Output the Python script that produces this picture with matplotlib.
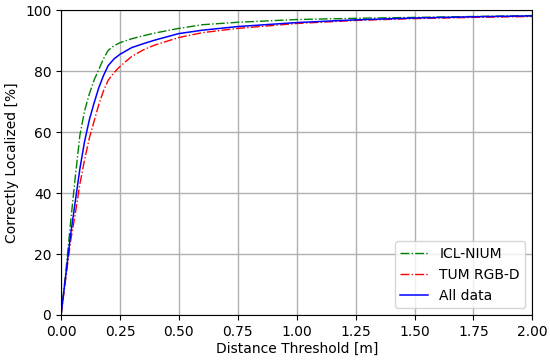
import matplotlib
matplotlib.use("Agg")
import matplotlib.pyplot as plt

x_icl = [0, 0.02, 0.04, 0.06, 0.08, 0.10, 0.12, 0.14, 0.16, 0.18, 0.20, 0.225, 0.25, 0.30, 0.35, 0.40, 0.50, 0.60, 0.75, 1.0, 1.25, 1.5, 1.75, 2.0]
y_icl = [0, 14, 30, 45, 59, 67, 72.5, 77, 80.5, 84, 86.8, 88.3, 89.3, 90.6, 91.6, 92.5, 94, 95.2, 96, 96.9, 97.3, 97.6, 97.9, 98.2]

x_all = [0, 0.02, 0.04, 0.06, 0.08, 0.10, 0.12, 0.14, 0.16, 0.18, 0.20, 0.225, 0.25, 0.30, 0.35, 0.40, 0.50, 0.60, 0.75, 1.0, 1.25, 1.5, 1.75, 2.0]
y_all = [0, 13, 26, 37, 48, 57, 64, 69.5, 74.5, 78.5, 81.8, 84, 85.5, 87.7, 89, 90.2, 92.3, 93.4, 94.6, 95.9, 96.8, 97.4, 97.8, 98.1]

x_tum = [0, 0.02, 0.04, 0.06, 0.08, 0.10, 0.12, 0.14, 0.16, 0.18, 0.20, 0.225, 0.25, 0.30, 0.35, 0.40, 0.50, 0.60, 0.75, 1.0, 1.25, 1.5, 1.75, 2.0]
y_tum = [0, 12, 24, 33, 43, 51, 58, 63.5, 69, 73.5, 77, 79.5, 81.5, 84.8, 87, 88.6, 91, 92.6, 94, 95.6, 96.6, 97.2, 97.6, 97.9]

labels = ["ICL-NIUM", "TUM RGB-D", "All data"]
xticks = [0.00, 0.25, 0.50, 0.75, 1.00, 1.25, 1.50, 1.75, 2.00]
yticks = [0, 20, 40, 60, 80, 100]

fig = plt.figure(figsize=(5.5, 3.6), dpi=100)
ax = fig.add_axes([0.111, 0.125, 0.857, 0.847])
ax.plot(x_icl, y_icl, color="green", linestyle="-.", linewidth=1, label=labels[0])
ax.plot(x_tum, y_tum, color="red", linestyle="-.", linewidth=1, label=labels[1])
ax.plot(x_all, y_all, color="blue", linestyle="-", linewidth=1.1, label=labels[2])
ax.set_xlim(0, 2)
ax.set_ylim(0, 100)
ax.set_xticks(xticks)
ax.set_yticks(yticks)
ax.set_xticklabels([f"{t:.2f}" for t in xticks])
ax.grid(True, color="#b0b0b0", linewidth=1)
ax.set_axisbelow(True)
ax.tick_params(labelsize=10)
ax.set_xlabel("Distance Threshold [m]", fontsize=10, labelpad=2)
ax.set_ylabel("Correctly Localized [%]", fontsize=10)
ax.legend(loc="lower right", fontsize=10)
fig.savefig("out.png", dpi=100)
